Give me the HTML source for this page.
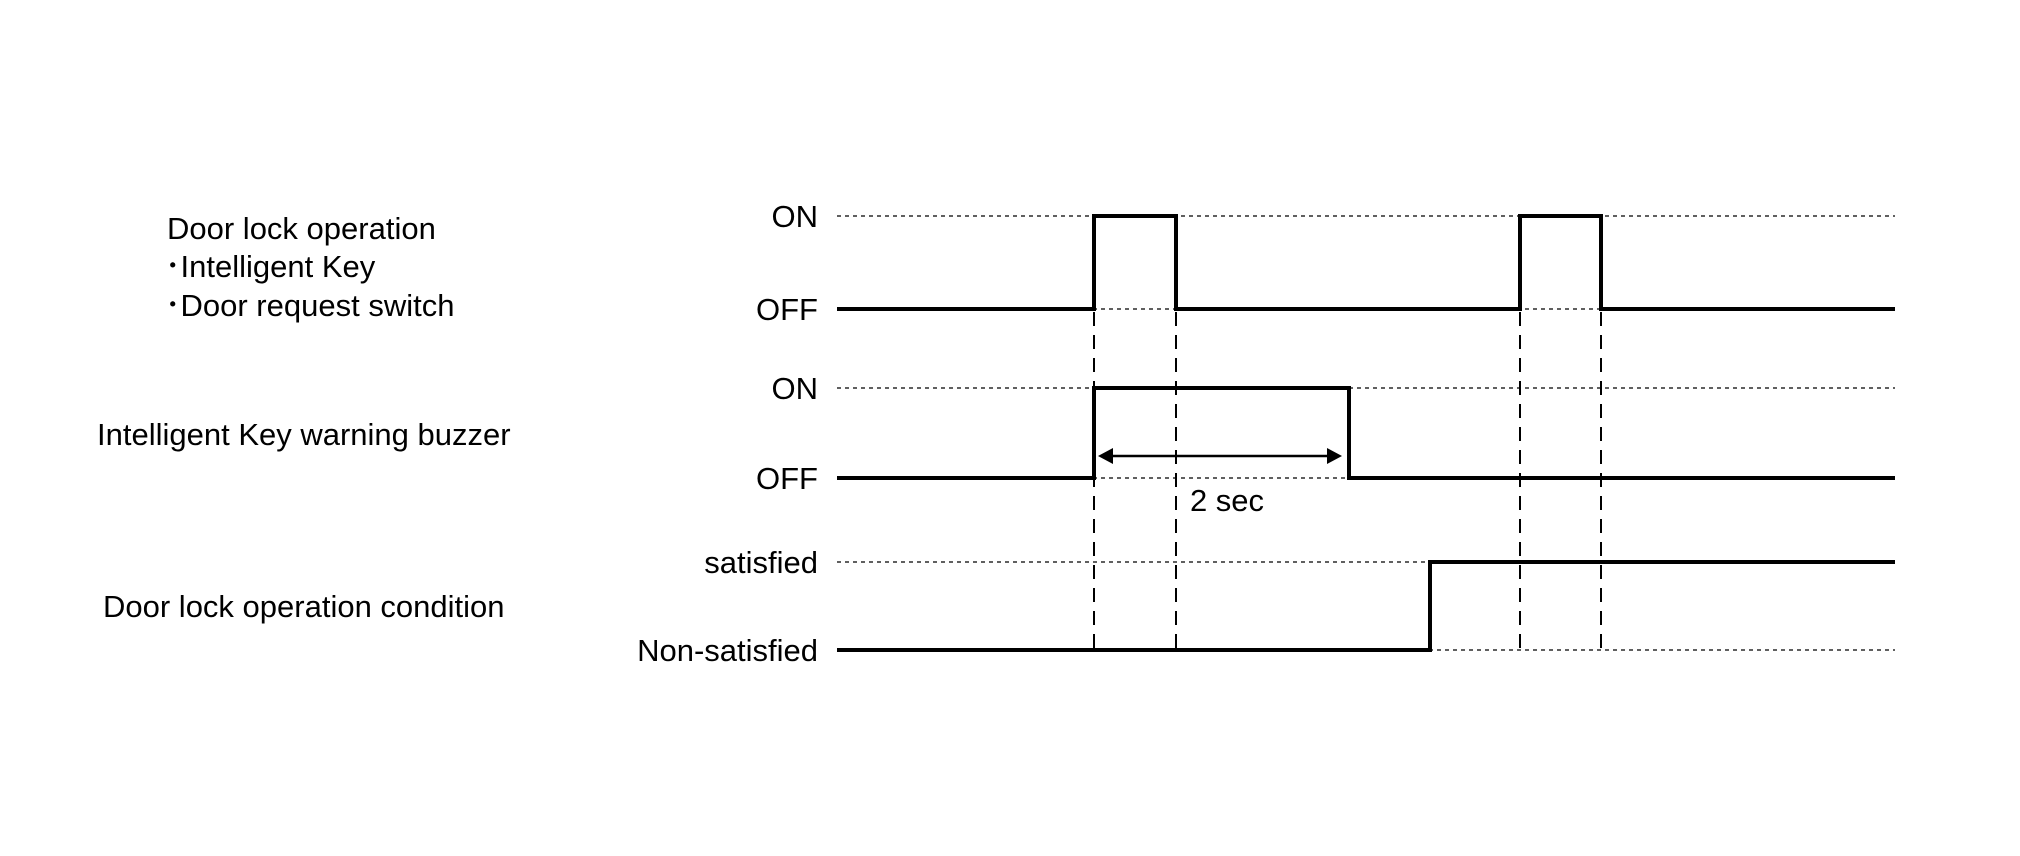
<!DOCTYPE html>
<html><head><meta charset="utf-8"><style>
html,body{margin:0;padding:0;background:#fff;}
svg text{font-family:"Liberation Sans",sans-serif;font-size:31px;fill:#000;}
</style></head><body>
<svg width="2020" height="851" xmlns="http://www.w3.org/2000/svg">
<g stroke="#000" stroke-width="1.3" stroke-dasharray="4,4" fill="none">
<line x1="837" y1="216" x2="1895" y2="216"/>
<line x1="837" y1="309" x2="1895" y2="309"/>
<line x1="837" y1="388" x2="1895" y2="388"/>
<line x1="837" y1="478" x2="1895" y2="478"/>
<line x1="837" y1="562" x2="1895" y2="562"/>
<line x1="837" y1="650" x2="1895" y2="650"/>
</g>
<g stroke="#000" stroke-width="2" stroke-dasharray="14,9" fill="none">
<line x1="1094" y1="312" x2="1094" y2="650"/>
<line x1="1176" y1="312" x2="1176" y2="650"/>
<line x1="1520" y1="312" x2="1520" y2="650"/>
<line x1="1601" y1="312" x2="1601" y2="650"/>
</g>
<g stroke="#000" stroke-width="4" fill="none" stroke-linejoin="miter">
<polyline points="837,309 1094,309 1094,216 1176,216 1176,309 1520,309 1520,216 1601,216 1601,309 1895,309"/>
<polyline points="837,478 1094,478 1094,388 1349,388 1349,478 1895,478"/>
<polyline points="837,650 1430,650 1430,562 1895,562"/>
</g>
<line x1="1110" y1="456" x2="1330" y2="456" stroke="#000" stroke-width="2.5"/>
<polygon points="1098,456 1113,448 1113,464" fill="#000"/>
<polygon points="1342,456 1327,448 1327,464" fill="#000"/>
<text x="1227" y="511" text-anchor="middle">2 sec</text>
<g text-anchor="end">
<text x="818" y="227">ON</text>
<text x="818" y="320">OFF</text>
<text x="818" y="399">ON</text>
<text x="818" y="489">OFF</text>
<text x="818" y="573">satisfied</text>
<text x="818" y="661">Non-satisfied</text>
</g>
<text x="167" y="239">Door lock operation</text>
<text x="165" y="277">･Intelligent Key</text>
<text x="165" y="316">･Door request switch</text>
<text x="97" y="445">Intelligent Key warning buzzer</text>
<text x="103" y="617">Door lock operation condition</text>
</svg>
</body></html>
